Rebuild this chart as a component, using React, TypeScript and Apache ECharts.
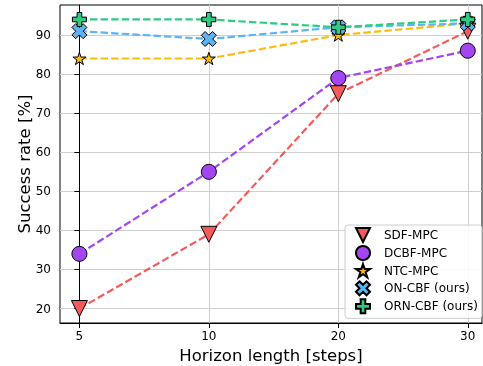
import React, { useEffect, useRef } from "react";
import * as echarts from "echarts";

const horizons = ["5", "10", "20", "30"];
const sdfMpc = [20, 39, 75, 91];
const dcbfMpc = [34, 55, 79, 86];
const ntcMpc = [84, 84, 90, 93];
const onCbf = [91, 89, 92, 93];
const ornCbf = [94, 94, 92, 94];
const yTicks = [20, 30, 40, 50, 60, 70, 80, 90];
const xTicks = [0, 1, 2, 3];

const TRI = "path://M0,0 L2,0 L1,2 Z";
const STAR =
  "path://M0,-1 L0.2245,-0.309 L0.951,-0.309 L0.363,0.118 L0.588,0.809 L0,0.382 L-0.588,0.809 L-0.363,0.118 L-0.951,-0.309 L-0.2245,-0.309 Z";
const XF =
  "path://M0.25,0 L0.5,0.25 L0.75,0 L1,0.25 L0.75,0.5 L1,0.75 L0.75,1 L0.5,0.75 L0.25,1 L0,0.75 L0.25,0.5 L0,0.25 Z";
const PLUS =
  "path://M-1,-3 L1,-3 L1,-1 L3,-1 L3,1 L1,1 L1,3 L-1,3 L-1,1 L-3,1 L-3,-1 L-1,-1 Z";

const FONT = "DejaVu Sans";

export default function App() {
  const ref = useRef<HTMLDivElement>(null);
  useEffect(() => {
    if (!ref.current) return;
    const chart = echarts.init(ref.current, undefined, { renderer: "svg" });
    const mk = (
      name: string,
      vals: number[],
      color: string,
      symbol: string,
      size: number
    ) => ({
      name,
      type: "line",
      data: vals.map((v, i) => [i, v]),
      symbol,
      symbolSize: size,
      symbolKeepAspect: true,
      lineStyle: { color, width: 2.2, type: [7.4, 3.2] },
      itemStyle: { color, borderColor: "#000", borderWidth: 1, opacity: 1 },
      emphasis: { disabled: true },
    });
    const series = [
      mk("SDF-MPC", sdfMpc, "#f65b5b", TRI, 16),
      mk("DCBF-MPC", dcbfMpc, "#a445f2", "circle", 15),
      mk("NTC-MPC", ntcMpc, "#fbbc0f", STAR, 13),
      mk("ON-CBF (ours)", onCbf, "#5cb4f7", XF, 15),
      mk("ORN-CBF (ours)", ornCbf, "#2ecc80", PLUS, 14),
    ];
    const icons = [TRI, "circle", STAR, XF, PLUS];
    chart.setOption({
      animation: false,
      grid: {
        left: 60,
        right: 1,
        top: 5,
        bottom: 43,
        containLabel: false,
        outerBoundsMode: "none",
        show: true,
        borderColor: "#000",
        borderWidth: 1,
        backgroundColor: "transparent",
      },
      legend: {
        orient: "vertical",
        left: 345,
        top: 225,
        padding: [2, 4, 4, 10],
        itemGap: 2,
        itemWidth: 14,
        itemHeight: 14,
        symbolKeepAspect: true,
        borderColor: "#cccccc",
        borderWidth: 1,
        borderRadius: 3,
        backgroundColor: "rgba(255,255,255,0.85)",
        textStyle: {
          fontFamily: FONT,
          fontSize: 12,
          lineHeight: 14,
          color: "#000",
          padding: [0, 0, 0, 9],
        },
        data: series.map((s, i) => ({ name: s.name, icon: icons[i] })),
      },
      xAxis: {
        type: "value",
        min: -0.15,
        max: 3.11,
        name: "Horizon length [steps]",
        nameLocation: "middle",
        nameGap: 24,
        nameMoveOverlap: false,
        nameTextStyle: { fontFamily: FONT, fontSize: 16.5, color: "#000" },
        axisLine: { lineStyle: { color: "#000", width: 1 } },
        axisTick: { show: true, length: 5, lineStyle: { color: "#000" }, customValues: xTicks },
        axisLabel: {
          fontFamily: FONT,
          fontSize: 12,
          color: "#000",
          margin: 7,
          customValues: xTicks,
          formatter: (v: number) => horizons[Math.round(v)] ?? "",
        },
        splitLine: { show: true, lineStyle: { color: "#cfcfcf", width: 1 } },
      },
      yAxis: {
        type: "value",
        min: 16.3,
        max: 97.7,
        name: "Success rate [%]",
        nameLocation: "middle",
        nameGap: 27,
        nameMoveOverlap: false,
        nameTextStyle: { fontFamily: FONT, fontSize: 16.5, color: "#000" },
        axisLine: { show: true, lineStyle: { color: "#000", width: 1 } },
        axisTick: { show: true, length: 5, lineStyle: { color: "#000" }, customValues: yTicks },
        axisLabel: {
          fontFamily: FONT,
          fontSize: 12,
          color: "#000",
          margin: 9,
          customValues: yTicks,
        },
        splitLine: { show: true, lineStyle: { color: "#cfcfcf", width: 1 } },
      },
      series,
    });
    return () => chart.dispose();
  }, []);
  return (
    <div
      ref={ref}
      style={{ position: "fixed", left: 0, top: 0, width: 483, height: 366 }}
    />
  );
}
